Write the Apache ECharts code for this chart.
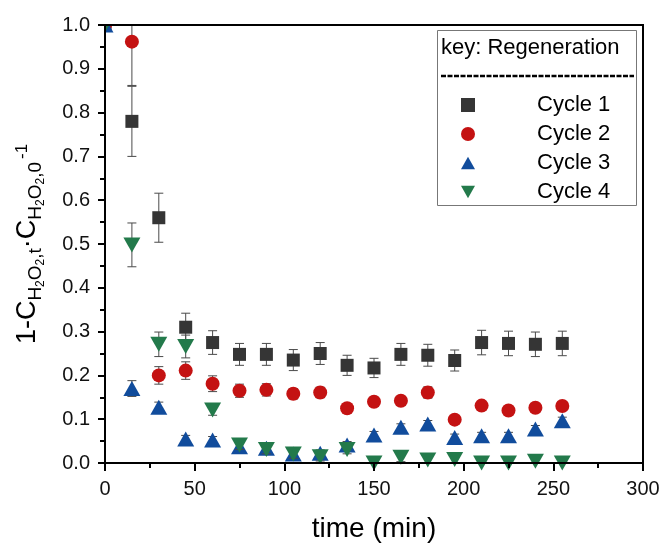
<!DOCTYPE html>
<html>
<head>
<meta charset="utf-8">
<script src="https://cdn.jsdelivr.net/npm/echarts@6/dist/echarts.min.js"></script>
<style>
html,body{margin:0;padding:0;background:#fff;}
#main{width:662px;height:544px;}
</style>
</head>
<body>
<div id="main"></div>
<script>
/* time points (min) */
var times = [0,15,30,45,60,75,90,105,120,135,150,165,180,195,210,225,240,255];

/* 1-C/C0 for each regeneration cycle, with error */
var cycle1 = [1.0,0.78,0.56,0.31,0.275,0.248,0.248,0.235,0.25,0.223,0.217,0.248,0.246,0.234,0.275,0.273,0.271,0.273];
var err1   = [0,0.08,0.056,0.032,0.027,0.025,0.025,0.024,0.025,0.023,0.022,0.025,0.025,0.024,0.028,0.028,0.028,0.028];
var cycle2 = [1.0,0.962,0.2,0.211,0.181,0.165,0.167,0.158,0.161,0.125,0.14,0.142,0.161,0.099,0.131,0.12,0.126,0.13];
var err2   = [0,0.1,0.02,0.02,0.018,0.015,0.014,0.012,0.012,0.01,0.01,0.01,0.013,0.008,0.01,0.01,0.01,0.01];
var cycle3 = [1.0,0.17,0.127,0.055,0.0525,0.037,0.0335,0.0205,0.022,0.041,0.064,0.0815,0.089,0.058,0.062,0.062,0.0776,0.0966];
var err3   = [0,0.018,0.012,0.008,0.008,0.008,0.008,0.008,0.008,0.008,0.008,0.008,0.008,0.008,0.008,0.008,0.008,0.008];
var cycle4 = [1.0,0.498,0.271,0.266,0.121,0.041,0.031,0.0205,0.0145,0.031,0.0,0.013,0.007,0.008,0.0,0.0,0.004,0.0];
var err4   = [0,0.05,0.028,0.026,0.012,0.01,0.01,0.01,0.01,0.01,0.01,0.01,0.01,0.01,0.01,0.01,0.01,0.01];

var names = ['Cycle 1','Cycle 2','Cycle 3','Cycle 4'];
var colors = ['#353535','#c41212','#114c9c','#237a4b'];
var symbols = ['rect','circle','path://M5,0 L10,9 L0,9 Z','path://M0,0 L10,0 L5,9 Z'];
var sizes = [13,14,[17,15],[17,15]];
var yMax = 1.0;

var font = '"Liberation Sans", Arial, sans-serif';
var gridLeft = 105, gridTop = 25;

/*把时间和数值配成点*/
function pts(vals){
    var out = [];
    for(var i=0;i<times.length;i++){ out.push([times[i],vals[i]]); }
    return out;
}
function errPts(vals,errs){
    var out = [];
    for(var i=0;i<times.length;i++){ out.push([times[i],vals[i]-errs[i],vals[i]+errs[i]]); }
    return out;
}

/*误差棒*/
function renderErr(params,api){
    var x = api.value(0);
    var lo = Math.max(api.value(1),0);
    var hiRaw = api.value(2);
    var hi = Math.min(hiRaw,yMax);
    if(hi-lo<=0) return;
    var pLo = api.coord([x,lo]);
    var pHi = api.coord([x,hi]);
    var w = 4.5;
    var st = {stroke:'#4a4a4a',lineWidth:1};
    var kids = [{type:'line',shape:{x1:pLo[0],y1:pLo[1],x2:pHi[0],y2:pHi[1]},style:st},
                {type:'line',shape:{x1:pLo[0]-w,y1:pLo[1],x2:pLo[0]+w,y2:pLo[1]},style:st}];
    if(hiRaw<=yMax){
        kids.push({type:'line',shape:{x1:pHi[0]-w,y1:pHi[1],x2:pHi[0]+w,y2:pHi[1]},style:st});
    }
    return {type:'group',children:kids};
}

var allVals = [cycle1,cycle2,cycle3,cycle4];
var allErrs = [err1,err2,err3,err4];
var series = [];
for(var k=0;k<4;k++){
    // 先画误差棒，再画点
    series.push({
        type:'custom',
        data:errPts(allVals[k],allErrs[k]),
        renderItem:renderErr,
        encode:{x:0,y:[1,2]},
        silent:true,
        z:2+k*2
    });
    series.push({
        name:names[k],
        type:'scatter',
        data:pts(allVals[k]),
        symbol:symbols[k],
        symbolSize:sizes[k],
        itemStyle:{color:colors[k],opacity:1},
        z:3+k*2
    });
}

var chart = echarts.init(document.getElementById('main'),null,{renderer:'canvas'});
chart.setOption({
    animation:false,
    backgroundColor:'#fff',
    grid:{left:gridLeft,right:19,top:gridTop,bottom:81,outerBoundsMode:'none',containLabel:false,
          show:true,borderColor:'#000',borderWidth:2,backgroundColor:'transparent',z:20},
    xAxis:{
        type:'value',min:0,max:300,interval:50,z:20,
        name:'time (min)',nameLocation:'middle',nameGap:52,
        nameTextStyle:{fontFamily:font,fontSize:28,color:'#000'},
        axisLine:{lineStyle:{color:'#000',width:2}},
        axisTick:{inside:false,length:8,lineStyle:{color:'#000',width:2}},
        minorTick:{show:true,splitNumber:2,length:5,lineStyle:{color:'#000',width:2}},
        splitLine:{show:false},
        axisLabel:{fontFamily:font,fontSize:20,color:'#111',margin:16}
    },
    yAxis:{
        type:'value',min:0,max:1,interval:0.1,z:20,
        name:'{n|1-C}{s|H}{ss|2}{s|O}{ss|2}{s|,t}{n|·C}{s|H}{ss|2}{s|O}{ss|2}{s|,0}{sp|-1}',
        nameLocation:'middle',nameGap:58,nameRotate:90,
        nameTextStyle:{
            fontFamily:font,color:'#000',
            rich:{
                n:{fontFamily:font,fontSize:27,color:'#000'},
                s:{fontFamily:font,fontSize:19,color:'#000',padding:[16,0,0,0]},
                ss:{fontFamily:font,fontSize:12,color:'#000',padding:[26,0,0,0]},
                sp:{fontFamily:font,fontSize:17,color:'#000',padding:[0,0,11,3]}
            }
        },
        axisLine:{lineStyle:{color:'#000',width:2}},
        axisTick:{inside:false,length:7,lineStyle:{color:'#000',width:2}},
        minorTick:{show:true,splitNumber:2,length:5,lineStyle:{color:'#000',width:2}},
        splitLine:{show:false},
        axisLabel:{fontFamily:font,fontSize:20,color:'#111',margin:15,
            formatter:function(v){return v.toFixed(1);}}
    },
    legend:{
        data:names,
        orient:'vertical',
        left:456,top:89,z:25,
        itemWidth:14,itemHeight:14,itemGap:7,
        textStyle:{fontFamily:font,fontSize:22,color:'#000',lineHeight:22,padding:[0,0,0,57]}
    },
    graphic:[
        /*遮住超出绘图区的角上标记*/
        {type:'rect',shape:{x:gridLeft-16,y:gridTop-16,width:15,height:32},style:{fill:'#fff'},z:15},
        {type:'rect',shape:{x:gridLeft-16,y:gridTop-16,width:32,height:15},style:{fill:'#fff'},z:15},
        {type:'rect',left:437,top:30,shape:{width:199,height:175},
         style:{fill:'#fff',stroke:'#777',lineWidth:1},z:10},
        {type:'text',x:441,y:48,
         style:{text:'key: Regeneration',fontFamily:font,fontSize:22,fill:'#000',verticalAlign:'middle'},z:11},
        {type:'line',shape:{x1:441,y1:76,x2:634,y2:76},
         style:{stroke:'#000',lineWidth:2.5,lineDash:[5,1.5]},z:11}
    ],
    series:series
});
</script>
</body>
</html>
